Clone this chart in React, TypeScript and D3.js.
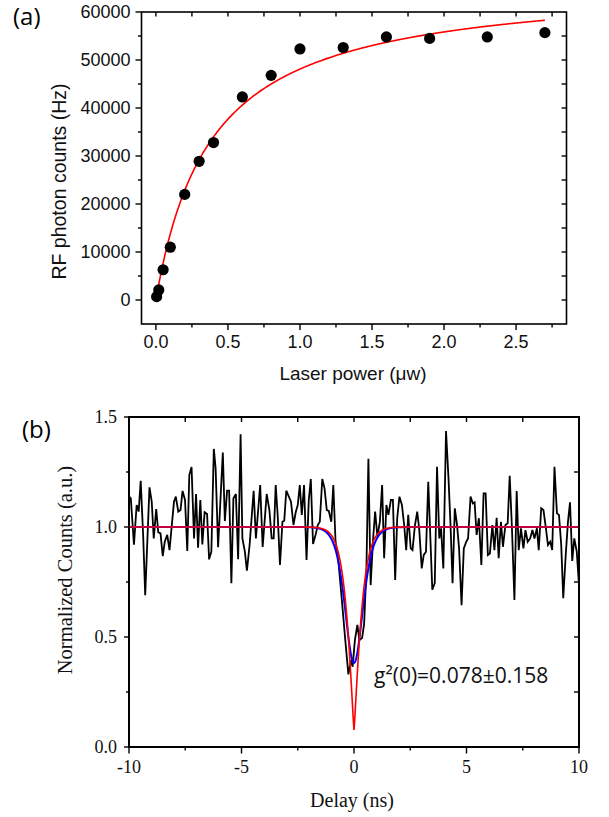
import React from 'react';
import * as d3 from 'd3';

// ---------- Panel (a) data ----------
const powerUW = [0.005, 0.02, 0.05, 0.1, 0.2, 0.3, 0.4, 0.6, 0.8, 1.0, 1.3, 1.6, 1.9, 2.3, 2.7];
const rfCountsHz = [700, 2100, 6300, 11000, 22000, 28900, 32800, 42300, 46800, 52300, 52600, 54800, 54500, 54800, 55700];
// saturation fit I = Imax * P / (P + Psat)
const satImax = 66540;
const satPsat = 0.383;
const satRange = [0.01, 2.7];
const powerTicks = [0, 0.5, 1.0, 1.5, 2.0, 2.5];
const countTicks = [0, 10000, 20000, 30000, 40000, 50000, 60000];

// ---------- Panel (b) data ----------
const delayNs = [
  -10.0, -9.92, -9.78, -9.66, -9.57, -9.48, -9.37, -9.28, -9.09, -8.99, -8.9, -8.79, -8.7, -8.6, -8.5, -8.41, -8.3, -8.2,
  -8.0, -7.92, -7.81, -7.71, -7.62, -7.51, -7.41, -7.32, -7.22, -7.11, -7.02, -6.93, -6.83, -6.74, -6.64, -6.53, -6.44,
  -6.34, -6.23, -6.15, -6.04, -5.83, -5.74, -5.64, -5.55, -5.45, -5.36, -5.25, -5.15, -5.04, -4.96, -4.85, -4.76, -4.64,
  -4.46, -4.36, -4.17, -4.06, -3.88, -3.76, -3.66, -3.57, -3.48, -3.39, -3.29, -3.18, -3.1, -3.01, -2.8, -2.69, -2.59,
  -2.5, -2.41, -2.32, -2.22, -2.11, -2.01, -1.92, -1.82, -1.71, -1.61, -1.52, -1.41, -1.31, -1.21, -1.12, -1.01, -0.92,
  -0.82, -0.7, -0.55, -0.4, -0.25, -0.13, -0.06, 0.04, 0.15, 0.24, 0.36, 0.45, 0.55, 0.64, 0.74, 0.85, 0.94, 1.04, 1.15,
  1.25, 1.34, 1.44, 1.53, 1.64, 1.73, 1.83, 1.92, 2.02, 2.13, 2.23, 2.32, 2.41, 2.52, 2.6, 2.71, 2.81, 2.9, 3.01, 3.1,
  3.2, 3.3, 3.48, 3.59, 3.69, 3.79, 3.87, 3.97, 4.09, 4.2, 4.29, 4.38, 4.48, 4.58, 4.67, 4.78, 4.88, 4.99, 5.07, 5.18,
  5.28, 5.36, 5.45, 5.55, 5.66, 5.76, 5.85, 5.95, 6.04, 6.15, 6.24, 6.34, 6.43, 6.53, 6.62, 6.73, 6.83, 6.92, 7.02, 7.13,
  7.23, 7.32, 7.42, 7.53, 7.62, 7.72, 7.83, 7.93, 8.02, 8.13, 8.21, 8.32, 8.42, 8.53, 8.62, 8.72, 8.81, 8.91, 9.02, 9.11,
  9.21, 9.3, 9.41, 9.51, 9.6, 9.7, 9.79, 9.9, 10.0,
];
const normCounts = [
  1.14, 1.13, 0.92, 1.1, 1.07, 1.21, 0.96, 0.69, 1.18, 1.115, 0.948, 1.082, 0.976, 0.971, 0.868, 0.933, 0.964, 0.895,
  1.115, 1.138, 1.07, 1.077, 1.164, 1.123, 0.891, 1.236, 1.273, 0.948, 1.15, 0.906, 1.123, 0.921, 1.067, 1.059, 0.853,
  0.888, 1.355, 1.267, 0.908, 1.339, 1.027, 1.165, 1.165, 0.744, 1.13, 1.15, 0.853, 1.421, 0.948, 0.888, 0.801, 0.918,
  1.165, 0.948, 1.191, 0.909, 1.15, 1.077, 0.948, 0.948, 1.191, 1.05, 0.827, 1.024, 1.029, 1.165, 1.115, 1.009, 1.067,
  1.1, 1.191, 1.055, 1.191, 0.85, 1.123, 1.218, 0.923, 0.964, 1.009, 1.024, 1.218, 1.176, 1.077, 1.073, 1.024, 1.191,
  0.933, 0.85, 0.68, 0.5, 0.33, 0.395, 0.365, 0.486, 0.555, 0.486, 0.495, 0.56, 0.8, 1.31, 0.736, 0.948, 1.07, 0.956, 1.024,
  1.191, 0.858, 1.1, 1.055, 1.123, 1.123, 0.759, 1.04, 1.138, 1.1, 1.009, 0.895, 1.055, 0.903, 0.895, 1.009, 1.07, 0.988, 0.812, 0.873,
  0.888, 1.206, 0.715, 0.745, 1.274, 0.948, 0.994, 0.812, 1.436, 1.221, 1.009, 0.745, 1.085, 1.009, 0.903, 0.645, 0.903, 0.933, 0.948, 1.138,
  1.107, 1.112, 0.964, 1.04, 0.827, 1.153, 1.153, 0.873, 0.88, 1.009, 0.895, 1.042, 0.858, 1.024, 0.91, 1.009, 1.017, 1.233, 0.994, 0.668,
  1.164, 0.895, 0.994, 0.903, 0.986, 0.933, 0.948, 0.986, 0.948, 0.994, 0.895, 1.085, 1.077, 0.994, 0.918, 0.933, 0.895, 1.274, 1.062, 1.055,
  0.918, 0.676, 0.873, 1.024, 1.112, 0.846, 0.948, 0.888, 0.737,
];
// antibunching fit (red): g(t) = 1 - (1 - g0) * exp(-(|t|/t0)^p); blue = red convolved with timing jitter
const fitG0 = 0.078;
const fitT0 = 0.378;
const fitP = 1.19;
const jitterSigma = 0.24;
const delayTicks = [-10, -5, 0, 5, 10];
const normTicks = [0.0, 0.5, 1.0, 1.5];

const SANS = '"Liberation Sans", Arial, sans-serif';
const SERIF = '"Liberation Serif", "Times New Roman", serif';
const CAL = '"Open Sans", sans-serif';

function redFit(t: number) {
  return 1 - (1 - fitG0) * Math.exp(-Math.pow(Math.abs(t) / fitT0, fitP));
}

export default function App() {
  // panel a scales
  const ax = d3.scaleLinear().domain([-0.1, 2.85]).range([141.5, 566.5]);
  const ay = d3.scaleLinear().domain([-5000, 60000]).range([324, 12]);
  // panel b scales
  const bx = d3.scaleLinear().domain([-10, 10]).range([129, 579]);
  const by = d3.scaleLinear().domain([0, 1.5]).range([747, 417]);

  const fitPts = d3.range(satRange[0], satRange[1] + 1e-9, 0.005).map((p) => [p, (satImax * p) / (p + satPsat)]);
  const lineA = d3
    .line<number[]>()
    .x((d) => ax(d[0]))
    .y((d) => ay(d[1]));

  const lineB = d3
    .line<number[]>()
    .x((d) => bx(d[0]))
    .y((d) => by(d[1]));

  const dataB = delayNs.map((t, i) => [t, normCounts[i]]);
  const tGrid = d3.range(-10, 10.0001, 0.01);
  const redPts = tGrid.map((t) => [t, redFit(t)]);
  const kern = d3.range(-4 * jitterSigma, 4 * jitterSigma + 1e-9, 0.01).map((s) => [s, Math.exp(-(s * s) / (2 * jitterSigma * jitterSigma))]);
  const kSum = d3.sum(kern, (k) => k[1]);
  const bluePts = tGrid.map((t) => [t, d3.sum(kern, (k) => k[1] * redFit(t - k[0])) / kSum]);

  // ticks a
  const aXAll = d3.range(0, 2.76, 0.25);
  const aYAll = d3.range(0, 60001, 5000);
  const isMajorA = (v: number) => powerTicks.some((p) => Math.abs(p - v) < 1e-6);
  const isMajorAY = (v: number) => countTicks.some((p) => Math.abs(p - v) < 1e-6);
  // ticks b
  const bXAll = d3.range(-10, 10.001, 2.5);
  const bYAll = d3.range(0, 1.5001, 0.25);
  const isMajorBX = (v: number) => delayTicks.some((p) => Math.abs(p - v) < 1e-6);
  const isMajorBY = (v: number) => normTicks.some((p) => Math.abs(p - v) < 1e-6);

  const aL = ax.range()[0], aR = ax.range()[1], aT = ay.range()[1], aB = ay.range()[0];
  const bL = bx.range()[0], bR = bx.range()[1], bT = by.range()[1], bB = by.range()[0];

  return (
    <svg width={609} height={817} style={{ position: 'absolute', left: 0, top: 0, background: '#fff' }}>
      {/* ================= Panel (a) ================= */}
      <text x={13} y={25} fontFamily={CAL} fontSize={24} fill="#000">(a)</text>
      <g stroke="#000" strokeWidth={1.4}>
        {aXAll.map((v, i) => (
          <line key={'axb' + i} x1={ax(v)} x2={ax(v)} y1={aB} y2={aB + (isMajorA(v) ? 6 : 3.5)} />
        ))}
        {aXAll.map((v, i) => (
          <line key={'axt' + i} x1={ax(v)} x2={ax(v)} y1={aT} y2={aT + 4.5} />
        ))}
        {aYAll.map((v, i) => (
          <line key={'ayl' + i} x1={aL} x2={aL - (isMajorAY(v) ? 6 : 3.5)} y1={ay(v)} y2={ay(v)} />
        ))}
        {aYAll.filter((v) => v < 60000).map((v, i) => (
          <line key={'ayr' + i} x1={aR} x2={aR - 5} y1={ay(v)} y2={ay(v)} />
        ))}
      </g>
      <rect x={aL} y={aT} width={aR - aL} height={aB - aT} fill="none" stroke="#000" strokeWidth={1.6} />
      {countTicks.map((v) => (
        <text key={'ayt' + v} x={130.5} y={ay(v) + 6} textAnchor="end" fontFamily={SANS} fontSize={18} fill="#111">
          {String(v)}
        </text>
      ))}
      {powerTicks.map((v) => (
        <text key={'axt' + v} x={ax(v)} y={348} textAnchor="middle" fontFamily={SANS} fontSize={18} fill="#111">
          {v.toFixed(1)}
        </text>
      ))}
      <text x={353} y={380} textAnchor="middle" fontFamily={SANS} fontSize={19} fill="#111">
        Laser power (μw)
      </text>
      <text
        transform={`translate(66,181.5) rotate(-90)`}
        textAnchor="middle"
        fontFamily={SANS}
        fontSize={19.5}
        fill="#111"
      >
        RF photon counts (Hz)
      </text>
      <path d={lineA(fitPts) || ''} fill="none" stroke="#ff0000" strokeWidth={1.6} />
      {powerUW.map((p, i) => (
        <circle key={'pt' + i} cx={ax(p)} cy={ay(rfCountsHz[i])} r={5.6} fill="#000" />
      ))}

      {/* ================= Panel (b) ================= */}
      <text x={22} y={438} fontFamily={CAL} fontSize={24} fill="#000">(b)</text>
      <g stroke="#000" strokeWidth={1.4}>
        {bXAll.map((v, i) => (
          <line key={'bxb' + i} x1={bx(v)} x2={bx(v)} y1={bB} y2={bB + (isMajorBX(v) ? 6.5 : 3.5)} />
        ))}
        {bXAll.filter((v) => v > -10 && v < 10).map((v, i) => (
          <line key={'bxt' + i} x1={bx(v)} x2={bx(v)} y1={bT} y2={bT + 5} />
        ))}
        {bYAll.map((v, i) => (
          <line key={'byl' + i} x1={bL} x2={bL - (isMajorBY(v) ? 5 : 3)} y1={by(v)} y2={by(v)} />
        ))}
        {bYAll.filter((v) => v > 0 && v < 1.5).map((v, i) => (
          <line key={'byr' + i} x1={bR} x2={bR - 5} y1={by(v)} y2={by(v)} />
        ))}
      </g>
      <path d={lineB(dataB) || ''} fill="none" stroke="#000" strokeWidth={1.8} strokeLinejoin="miter" strokeMiterlimit={3} />
      <path d={lineB(bluePts) || ''} fill="none" stroke="#0000ff" strokeWidth={2} />
      <path d={lineB(redPts) || ''} fill="none" stroke="#ff0000" strokeWidth={1.6} />
      <rect x={bL} y={bT} width={bR - bL} height={bB - bT} fill="none" stroke="#000" strokeWidth={2} />
      {normTicks.map((v) => (
        <text key={'byt' + v} x={117} y={by(v) + 6} textAnchor="end" fontFamily={SERIF} fontSize={18} fill="#111">
          {v.toFixed(1)}
        </text>
      ))}
      {delayTicks.map((v) => (
        <text key={'bxt2' + v} x={bx(v)} y={773} textAnchor="middle" fontFamily={SERIF} fontSize={18} fill="#111">
          {String(v)}
        </text>
      ))}
      <text x={352} y={807} textAnchor="middle" fontFamily={SERIF} fontSize={20} fill="#111">
        Delay (ns)
      </text>
      <text
        transform={`translate(72,570) rotate(-90)`}
        textAnchor="middle"
        fontFamily={SERIF}
        fontSize={20.5}
        fill="#111"
      >
        Normalized Counts (a.u.)
      </text>
      <text x={374} y={683} fontFamily={CAL} fontSize={21} fill="#111">
        g²(0)=0.078±0.158
      </text>
    </svg>
  );
}
